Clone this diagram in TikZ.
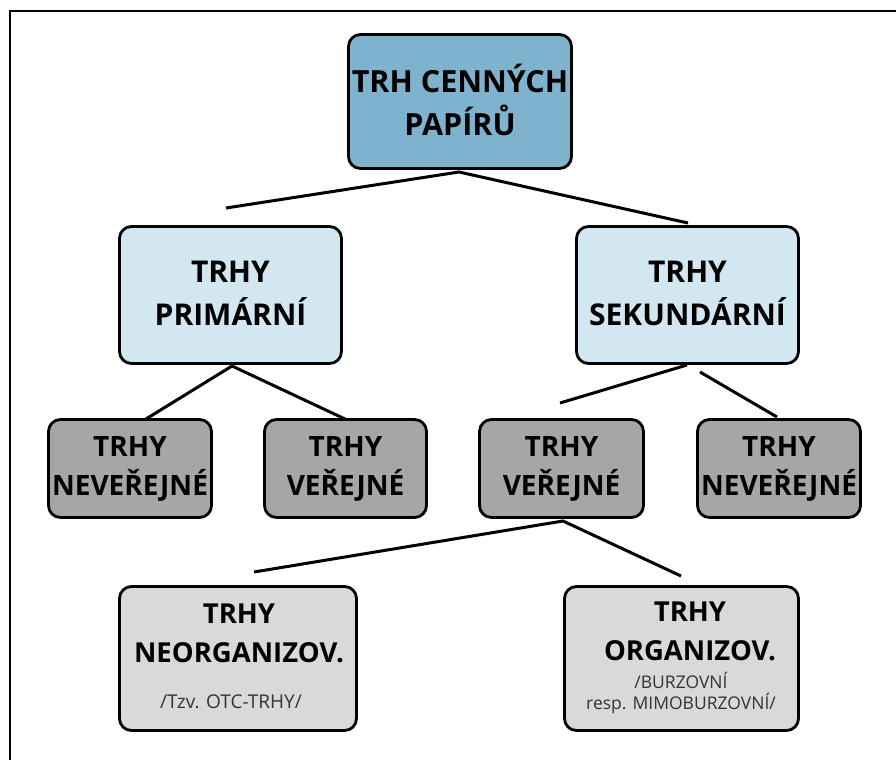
\documentclass[tikz,border=0pt]{standalone}
\usepackage{fontspec}
\setmainfont{Open Sans}
\definecolor{topc}{HTML}{7FB3CD}
\definecolor{lvltwo}{HTML}{D3E7F2}
\definecolor{lvlthree}{HTML}{A6A6A6}
\definecolor{lvlfour}{HTML}{D9D9D9}
\definecolor{subc}{HTML}{333333}
\begin{document}
\begin{tikzpicture}[x=1pt,y=-1pt,
  box/.style={draw=black, line width=2.8pt, rounded corners=12pt, inner sep=0pt},
  conn/.style={line width=3pt},
  bigt/.style={font=\fontsize{30.5}{43}\selectfont\bfseries, align=center, inner sep=0pt},
  midt/.style={font=\fontsize{30}{43}\selectfont\bfseries, align=center, inner sep=0pt},
  smt/.style={font=\fontsize{28}{39}\selectfont\bfseries, align=center, inner sep=0pt},
  lgt/.style={font=\fontsize{27.5}{39}\selectfont\bfseries, align=center, inner sep=0pt},
  subt/.style={text=subc, align=center, inner sep=0pt}]
\useasboundingbox (0,0) rectangle (896,760);
% frame
\draw[line width=2.5pt] (10,760) -- (10,11) -- (900,11);
% boxes
\node[box, fill=topc, minimum width=223pt, minimum height=134pt] (top) at (460,101.5) {};
\node[box, fill=lvltwo, minimum width=222pt, minimum height=137pt] (prim) at (230.5,295) {};
\node[box, fill=lvltwo, minimum width=222pt, minimum height=137pt] (sek) at (687.5,295) {};
\node[box, fill=lvlthree, minimum width=163pt, minimum height=98pt] (pnev) at (130,468.5) {};
\node[box, fill=lvlthree, minimum width=162pt, minimum height=98pt] (pver) at (345.5,468.5) {};
\node[box, fill=lvlthree, minimum width=164pt, minimum height=98pt] (sver) at (561.5,468.5) {};
\node[box, fill=lvlthree, minimum width=163pt, minimum height=98pt] (snev) at (779,468.5) {};
\node[box, fill=lvlfour, minimum width=237pt, minimum height=144pt] (neorg) at (238,658.5) {};
\node[box, fill=lvlfour, minimum width=234pt, minimum height=144pt] (org) at (681.5,658.5) {};
% texts
\node[bigt] (ttop) at (460,100) {TRH CENNÝCH\\PAPÍRŮ};
\node[midt] (tprim) at (230.5,293.5) {TRHY\\PRIMÁRNÍ};
\node[midt] (tsek) at (687.5,293.5) {TRHY\\SEKUNDÁRNÍ};
\node[smt] (tpnev) at (130,468.5) {TRHY\\NEVEŘEJNÉ};
\node[smt] (tpver) at (345.5,468.5) {TRHY\\VEŘEJNÉ};
\node[smt] (tsver) at (561.5,468.5) {TRHY\\VEŘEJNÉ};
\node[smt] (tsnev) at (779,468.5) {TRHY\\NEVEŘEJNÉ};
\node[lgt] (tneorg) at (239,633.5) {TRHY\\NEORGANIZOV.};
\node[subt, font=\fontsize{19}{22}\selectfont] (sneorg) at (231,702) {/Tzv. OTC-TRHY/};
\node[lgt] (torg) at (690,631) {TRHY\\ORGANIZOV.};
\node[subt, font=\fontsize{17.5}{20.5}\selectfont] (sorg) at (681,693) {/BURZOVNÍ\\resp. MIMOBURZOVNÍ/};
% connector coordinates
\coordinate (a0) at (459,172);
\coordinate (a1) at (226,208);
\coordinate (a2) at (688,223);
\coordinate (b0) at (232,366);
\coordinate (b1) at (146,419);
\coordinate (b2) at (345,419);
\coordinate (c0) at (687,365);
\coordinate (c1) at (560,403);
\coordinate (d0) at (700,372);
\coordinate (d1) at (777,417);
\coordinate (e0) at (563,521);
\coordinate (e1) at (254,572);
\coordinate (e2) at (681,576);
\draw[conn] (a1) -- (a0) -- (a2);
\draw[conn] (b1) -- (b0) -- (b2);
\draw[conn] (c0) -- (c1);
\draw[conn] (d0) -- (d1);
\draw[conn] (e1) -- (e0) -- (e2);
\end{tikzpicture}
\end{document}
